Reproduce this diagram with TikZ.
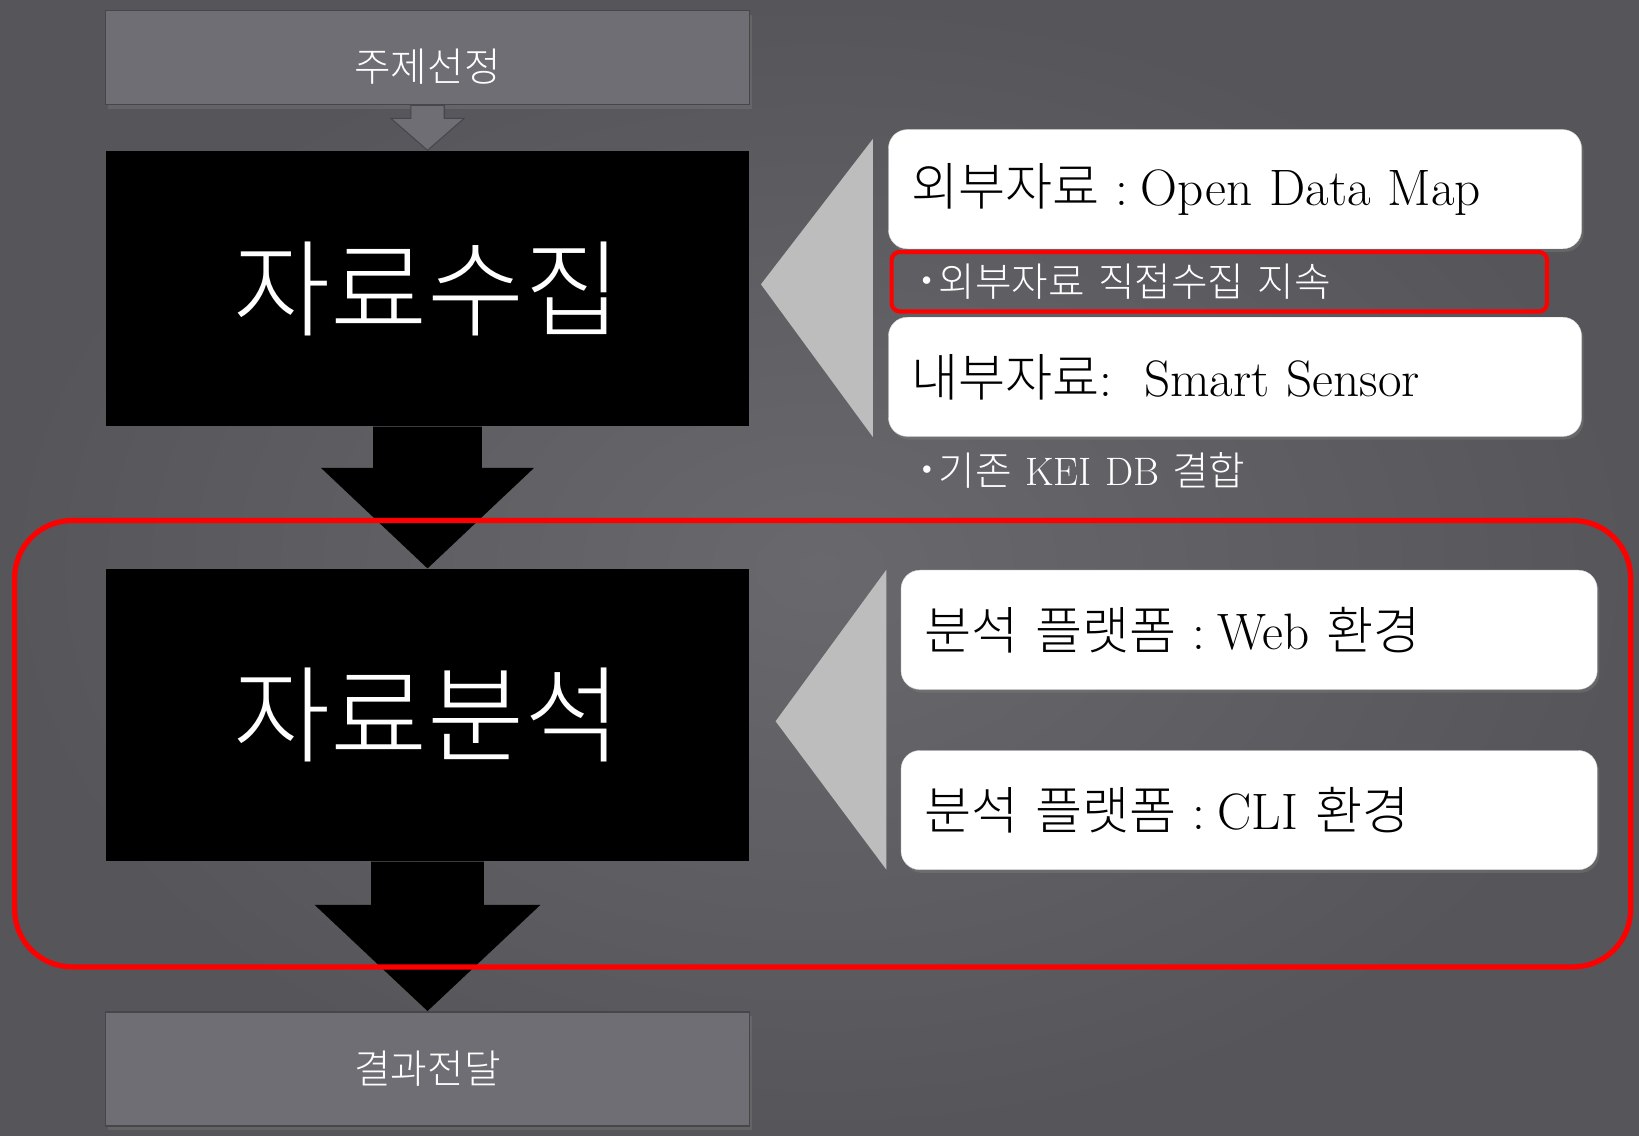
\documentclass[tikz,border=0pt]{standalone}
\usepackage{fontspec}
\newfontfamily\kr{Noto Sans CJK KR}[UprightFont=* Light]
\usetikzlibrary{calc,shadows}
\definecolor{bgin}{HTML}{69686D}
\definecolor{bgout}{HTML}{56555A}
\definecolor{boxgrey}{HTML}{6F6E74}
\definecolor{boxline}{HTML}{47464B}
\definecolor{trigrey}{HTML}{BDBDBD}
\newcommand{\fs}[1]{\fontsize{#1}{#1}\selectfont}
\newcommand{\cln}{\hspace{15pt}:\hspace{12pt}}
\newcommand{\bul}{\raisebox{.18em}{\fs{32}\textbullet}}
\newcommand{\blkarw}[5][fill=black]{%
  \coordinate (#2-#3) at ($(#2.south)!.29!(#3.north)$);
  \path[#1] ($(#2.south)+(-#4,0)$) -- ($(#2-#3)+(-#4,0)$) -- ($(#2-#3)+(-#5,0)$)
    -- (#3.north) -- ($(#2-#3)+(#5,0)$) -- ($(#2-#3)+(#4,0)$) -- ($(#2.south)+(#4,0)$) -- cycle;}
\tikzset{
  greybox/.style={draw=boxline, line width=1.5pt, fill=boxgrey, minimum width=616pt, inner sep=0pt,
    text=white, font=\kr\fs{38}, drop shadow={opacity=.35, shadow xshift=2pt, shadow yshift=-4pt}},
  blackbox/.style={fill=black, minimum width=616pt, inner sep=0pt, text=white, font=\kr\fs{101}},
  whitebox/.style={fill=white, draw=black!15, rounded corners=18pt, minimum height=114pt,
    text width=619pt, inner xsep=22pt, align=left, font=\fs{49},
    drop shadow={opacity=.4, shadow xshift=2pt, shadow yshift=-3pt}},
  notebox/.style={text width=583pt, inner xsep=22pt, inner ysep=0pt, align=left, text=white, font=\fs{38}},
  redline/.style={draw=red, line width=#1},
}

\begin{document}
\begin{tikzpicture}[x=1pt,y=-1pt]
\useasboundingbox (0,0) rectangle (1568,1086);
\shade[inner color=bgin, outer color=bgout] (0,0) rectangle (1568,1086);
%flow
\node[greybox, minimum height=90pt, text height=46pt, text depth=0pt] (topic) at (409,55) {주제선정};
\node[blackbox, minimum height=264pt] (collect) at (409,276) {자료수집};
\node[blackbox, minimum height=280pt] (analyze) at (409,684) {자료분석};
\node[greybox, minimum height=109pt] (result) at (409,1022.5) {결과전달};
\blkarw[fill=boxgrey, draw=boxline, line width=1pt]{topic}{collect}{16}{35}
\blkarw{collect}{analyze}{52}{102}
\blkarw{analyze}{result}{54}{108}
%data collection
\fill[trigrey] (835,133) -- (835,418) -- (728,272) -- cycle;
\node[whitebox] (extern) at (1181.5,181) {{\kr 외부자료}\cln Open Data Map};
\node[notebox, redline=4pt, rounded corners=8pt, minimum height=57pt] (direct) at (1166.5,269.5)
  {\bul{\kr 외부자료 직접수집 지속}};
\node[whitebox] (intern) at (1181.5,360.5) {{\kr 내부자료}:\hspace{30pt}Smart Sensor};
\node[notebox, anchor=west] (kei) at (853,450) {\bul{\kr 기존} KEI DB {\kr 결합}};
%data analysis
\fill[trigrey] (848,545) -- (848,832) -- (742,690) -- cycle;
\node[whitebox, text width=622pt] (web) at (1195,602.5) {{\kr 분석 플랫폼}\cln Web {\kr 환경}};
\node[whitebox, text width=622pt] (cli) at (1195,775) {{\kr 분석 플랫폼}\cln CLI {\kr 환경}};
\draw[redline=5pt, rounded corners=55pt] (14,498) rectangle (1560,925);
\end{tikzpicture}
\end{document}
